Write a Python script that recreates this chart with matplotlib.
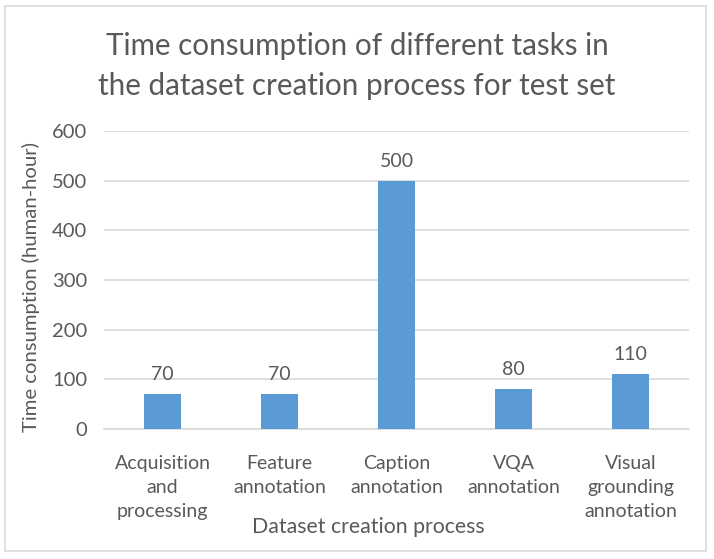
import matplotlib
matplotlib.use("Agg")
import matplotlib.pyplot as plt
from matplotlib.patches import Rectangle

categories = ["Acquisition\nand\nprocessing", "Feature\nannotation", "Caption\nannotation",
              "VQA\nannotation", "Visual\ngrounding\nannotation"]
values = [70, 70, 500, 80, 110]
yticks = [0, 100, 200, 300, 400, 500, 600]

plt.rcParams['font.family'] = ['Lato', 'DejaVu Sans']
txt = '#595959'

fig = plt.figure(figsize=(7.14, 5.59), dpi=100)
ax = fig.add_axes([104/714, 1-429/559, 585/714, 298/559])

x = list(range(len(categories)))
bars = ax.bar(x, values, width=0.32, color='#5b9bd5', zorder=3)
for xi, v in zip(x, values):
    ax.annotate(str(v), (xi, v), xytext=(0, 8), textcoords='offset points',
                ha='center', va='bottom', fontsize=14, color=txt)

ax.set_xlim(-0.5, 4.5)
ax.set_ylim(0, 600)
ax.set_yticks(yticks)
ax.set_yticklabels([str(t) for t in yticks], fontsize=14.5, color=txt)
ax.set_xticks(x)
ax.set_xticklabels(categories, fontsize=14, color=txt, linespacing=1.5)
ax.tick_params(length=0)
ax.tick_params(axis='x', pad=19)
ax.tick_params(axis='y', pad=12)
ax.grid(axis='y', color='#d9d9d9', linewidth=1.2, zorder=0)
for s in ['top', 'right', 'left']:
    ax.spines[s].set_visible(False)
ax.spines['bottom'].set_color('#d9d9d9')
ax.spines['bottom'].set_linewidth(1.2)

ax.set_xlabel("Dataset creation process", fontsize=15.3, color=txt)
ax.xaxis.set_label_coords((368-104)/585, -(527-429)/298)
ax.xaxis.label.set_va('center')
ax.set_ylabel("Time consumption (human-hour)", fontsize=14.6, color=txt)
ax.yaxis.set_label_coords((31-104)/585, (429-287)/298)
ax.yaxis.label.set_va('center')

fig.text(357/714, 1-66/559, "Time consumption of different tasks in\nthe dataset creation process for test set",
         ha='center', va='center', fontsize=21.3, color=txt, linespacing=1.55)

fig.patches.append(Rectangle((5/714, 1-551/559), 701/714, 545/559, transform=fig.transFigure,
                             fill=False, edgecolor='#d9d9d9', linewidth=1.2))

fig.savefig("out.png", dpi=100)
